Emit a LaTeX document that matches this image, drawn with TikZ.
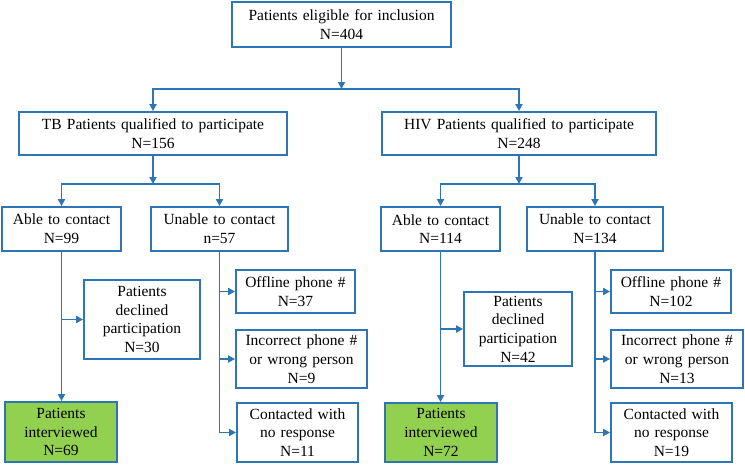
\documentclass[tikz,border=0pt]{standalone}
\usepackage{fontspec}
\setmainfont{Liberation Serif}
\usetikzlibrary{arrows.meta}
\definecolor{lineblue}{HTML}{2E75B6}
\definecolor{boxgreen}{HTML}{92D050}
\tikzset{
  box/.style={draw=lineblue, line width=1.8pt, fill=white, inner sep=0pt, align=center,
    font=\fontsize{15.5}{18.7}\selectfont},
  greenbox/.style={box, fill=boxgreen},
  arr/.style={draw=lineblue, line width=1.8pt, -{Triangle[length=7pt,width=7pt]}},
}
\newcommand{\bx}[6][box]{\node[#1, minimum width=#4pt, minimum height=#5pt, text width=#4pt] (#2) at (#3) {#6};}
\begin{document}
\begin{tikzpicture}[x=1pt,y=-1pt]
\useasboundingbox (0,0) rectangle (745,464);
\bx{top}{341.5,24.5}{219}{45}{Patients eligible for inclusion\\N=404}
\bx{tb}{153,133.5}{268}{43}{TB Patients qualified to participate\hspace*{25pt}\\N=156}
\bx{hiv}{519,133.5}{274}{43}{HIV Patients qualified to participate\hspace*{22pt}\\N=248}
\bx{ableTB}{61.5,229}{119}{44}{Able to contact\\N=99}
\bx{unableTB}{219.5,229}{137}{44}{Unable to contact\\n=57}
\bx{declTB}{142,319.5}{116}{79}{Patients\\declined\\participation\\N=30}
\bx[greenbox]{intTB}{61,432}{112}{60}{Patients\\interviewed\\N=69}
\bx{offTB}{295.5,291.5}{119}{43}{Offline phone \#\\N=37}
\bx{incTB}{301.5,359}{131}{58}{Incorrect phone \#\\or wrong person\\N=9}
\bx{conTB}{297.5,432.5}{121}{59}{Contacted with\\no response\\N=11}
\bx{ableHIV}{440.5,229}{119}{44}{Able to contact\\N=114}
\bx{unableHIV}{595,229}{136}{44}{Unable to contact\\N=134}
\bx{declHIV}{518,329}{108}{74}{Patients\\declined\\participation\\N=42}
\bx[greenbox]{intHIV}{441,432.5}{112}{59}{Patients\\interviewed\\N=72}
\bx{offHIV}{671,291.5}{120}{43}{Offline phone \#\\N=102}
\bx{incHIV}{677,359}{132}{58}{Incorrect phone \#\\or wrong person\\N=13}
\bx{conHIV}{671.5,432.5}{121}{59}{Contacted with\\no response\\N=19}
% junctions
\coordinate (j0) at (341.5,89);
\coordinate (jtb) at (153,184);
\coordinate (jhiv) at (519,184);
\draw[arr] (top.south) -- (j0);
\draw[arr] (j0) -| (tb.north);
\draw[arr] (j0) -| (hiv.north);
\draw[arr] (tb.south) -- (jtb);
\draw[arr] (jtb) -| (ableTB.north);
\draw[arr] (jtb) -| (unableTB.north);
\draw[arr] (hiv.south) -- (jhiv);
\draw[arr] (jhiv) -| (ableHIV.north);
\draw[arr] (jhiv) -| (unableHIV.north);
% able branches
\draw[arr] (ableTB.south) -- (ableTB.south |- intTB.north);
\coordinate (bTB) at (ableTB.south |- declTB.west);
\draw[arr] (bTB) -- (declTB.west);
\draw[arr] (ableHIV.south) -- (ableHIV.south |- intHIV.north);
\coordinate (bHIV) at (ableHIV.south |- declHIV.west);
\draw[arr] (bHIV) -- (declHIV.west);
% unable branches
\draw[arr] (unableTB.south) |- (conTB.west);
\coordinate (uTB1) at (unableTB.south |- offTB.west);
\coordinate (uTB2) at (unableTB.south |- incTB.west);
\draw[arr] (uTB1) -- (offTB.west);
\draw[arr] (uTB2) -- (incTB.west);
\draw[arr] (unableHIV.south) |- (conHIV.west);
\coordinate (uHIV1) at (unableHIV.south |- offHIV.west);
\coordinate (uHIV2) at (unableHIV.south |- incHIV.west);
\draw[arr] (uHIV1) -- (offHIV.west);
\draw[arr] (uHIV2) -- (incHIV.west);
\end{tikzpicture}
\end{document}
